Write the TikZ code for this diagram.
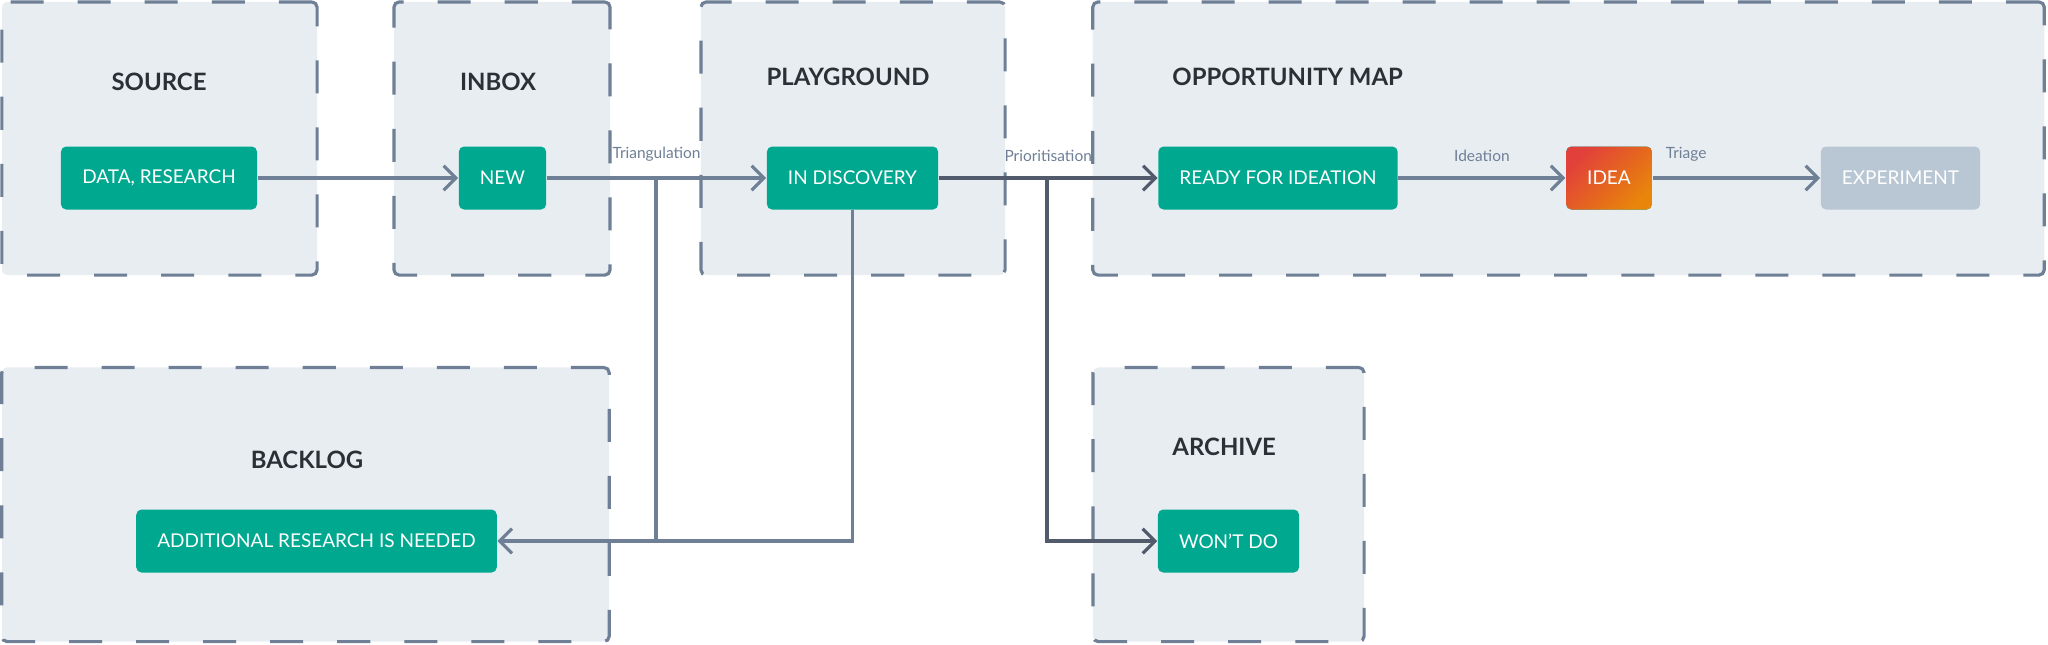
\documentclass[tikz,border=0pt]{standalone}
\usepackage{fontspec}
\setmainfont{Lato}
\usetikzlibrary{arrows.meta,positioning}
\definecolor{panelfill}{HTML}{E8EDF2}
\definecolor{panelline}{HTML}{6E7F96}
\definecolor{linkdark}{HTML}{515B6C}
\definecolor{cardgreen}{HTML}{00A88F}
\definecolor{cardgrey}{HTML}{B9C7D4}
\definecolor{titlegrey}{HTML}{2B2F36}
\definecolor{ideared}{HTML}{E2403A}
\definecolor{ideaorange}{HTML}{E8850A}
\tikzset{
  panel/.style={rectangle, draw=panelline, fill=panelfill, line width=0.9pt, dash pattern=on 0.33cm off 0.34cm, rounded corners=1.5pt},
  title/.style={font=\fontsize{6.8}{8}\selectfont\bfseries, text=titlegrey},
  card/.style={rectangle, fill=cardgreen, rounded corners=1.5pt, text=white, font=\fontsize{5.4}{6}\selectfont, minimum height=0.63cm, inner xsep=6pt},
  flow/.style={draw=panelline, line width=0.9pt, -{Straight Barb[length=3.5pt,width=7pt]}},
  darkflow/.style={flow, draw=linkdark},
  tag/.style={font=\fontsize{4.4}{5}\selectfont, text=panelline, above=1pt}
}
\begin{document}
\begin{tikzpicture}[x=0.01cm,y=-0.01cm]
\useasboundingbox (0,0) rectangle (2048,644);

% panels
\node[panel, minimum width=3.15cm, minimum height=2.73cm] (srcP) at (159.5,138.5) {};
\node[panel, minimum width=2.16cm, minimum height=2.73cm] (inbP) at (502,138.5) {};
\node[panel, minimum width=3.04cm, minimum height=2.73cm] (plyP) at (853,138.5) {};
\node[panel, minimum width=9.51cm, minimum height=2.73cm] (oppP) at (1568.5,138.5) {};
\node[panel, minimum width=6.07cm, minimum height=2.74cm] (bckP) at (305.5,504.5) {};
\node[panel, minimum width=2.71cm, minimum height=2.74cm] (arcP) at (1228.5,504.5) {};

% titles
\node[title] (srcT) at (159,82) {SOURCE};
\node[title] (inbT) at (498,82) {INBOX};
\node[title] (plyT) at (848,77) {PLAYGROUND};
\node[title, anchor=west] (oppT) at (1160,77) {OPPORTUNITY MAP};
\node[title] (bckT) at (307,460) {BACKLOG};
\node[title, anchor=west] (arcT) at (1160,447) {ARCHIVE};

% cards
\node[card, minimum width=1.96cm] (data) at (159,178) {DATA, RESEARCH};
\node[card, minimum width=0.85cm] (new) at (502.5,178) {NEW};
\node[card, minimum width=1.71cm] (disc) at (852.5,178) {IN DISCOVERY};
\node[card, minimum width=2.36cm] (ready) at (1278,178) {READY FOR IDEATION};
\node[card, minimum width=0.84cm, left color=ideared, right color=ideaorange, shading angle=45] (idea) at (1609,178) {IDEA};
\node[card, fill=cardgrey, minimum width=1.57cm] (exp) at (1900.5,178) {EXPERIMENT};
\node[card, minimum width=3.59cm] (add) at (316.5,541) {ADDITIONAL RESEARCH IS NEEDED};
\node[card, minimum width=1.37cm] (wont) at (1228.5,541) {WON'T DO};

% connectors
\coordinate (tri) at (656,178);
\coordinate (pri) at (1047,178);
\draw[flow] (data) -- (new);
\draw[flow] (new) -- node[tag] {Triangulation} (disc);
\draw[darkflow] (disc) -- node[tag] {Prioritisation} (ready);
\draw[flow] (ready) -- node[tag] {Ideation} (idea);
\draw[flow] (idea) -- node[tag, pos=0.2] {Triage} (exp);
\draw[flow] (disc.south) |- (add.east);
\draw[draw=panelline, line width=0.9pt] (tri) -- (tri |- add.east);
\draw[darkflow] (pri) |- (wont.west);

\end{tikzpicture}
\end{document}
